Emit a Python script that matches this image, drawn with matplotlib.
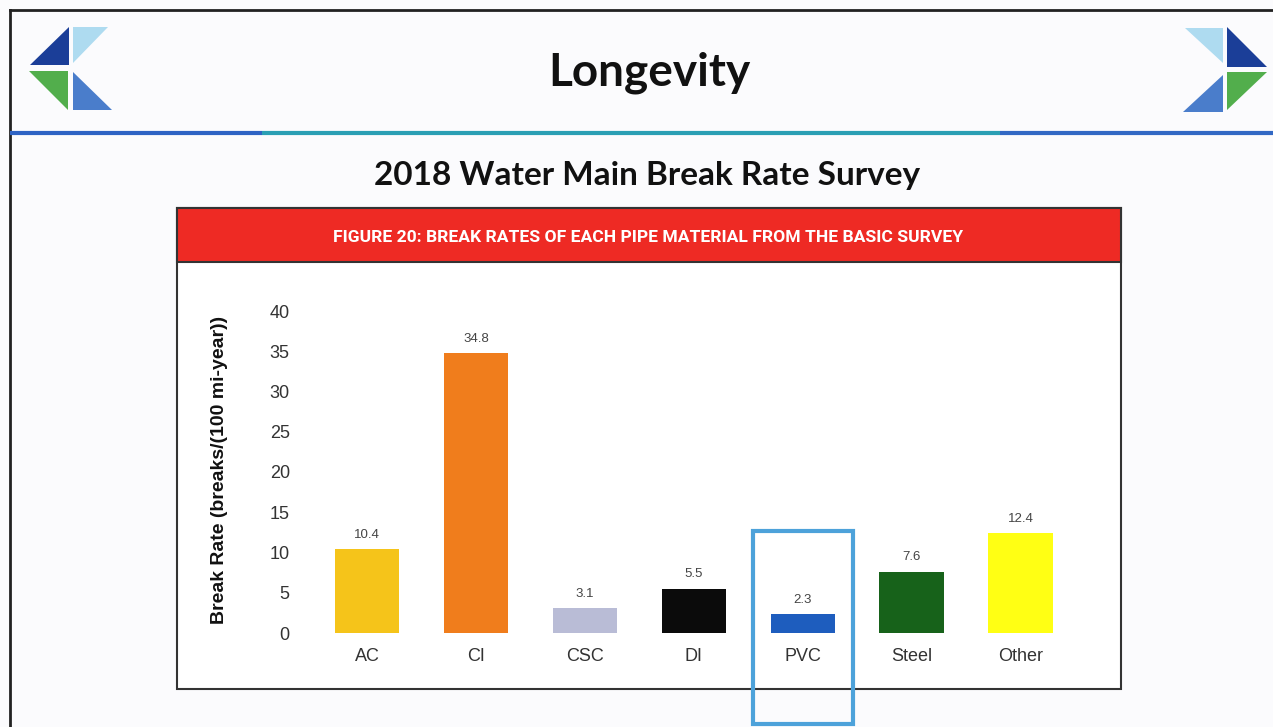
import matplotlib.pyplot as plt
from matplotlib.patches import Rectangle, Polygon

# Chart data
materials = ["AC", "CI", "CSC", "DI", "PVC", "Steel", "Other"]
break_rates = [10.4, 34.8, 3.1, 5.5, 2.3, 7.6, 12.4]
bar_colors = ["#F5C41A", "#F07D1C", "#B9BCD6", "#0B0B0B", "#1E5DBE", "#17621A", "#FFFF14"]
highlight = "PVC"

slide_title = "Longevity"
subtitle = "2018 Water Main Break Rate Survey"
figure_caption = "FIGURE 20: BREAK RATES OF EACH PIPE MATERIAL FROM THE BASIC SURVEY"
y_label = "Break Rate (breaks/(100 mi-year))"

W, H = 1273, 727
fig = plt.figure(figsize=(W / 100, H / 100), dpi=100)
fig.patch.set_facecolor("#FBFBFD")

# overlay in pixel coordinates for the slide decoration
deco = fig.add_axes([0, 0, 1, 1], zorder=0)
deco.set_xlim(0, W)
deco.set_ylim(H, 0)
deco.set_axis_off()

# slide border
deco.plot([10, 10], [10, H], color="#222222", lw=2)
deco.plot([10, W], [10, 10], color="#222222", lw=2)

# header rule
deco.plot([10, 262], [133, 133], color="#2E63C4", lw=3, solid_capstyle="butt")
deco.plot([262, 1000], [133, 133], color="#2A9FB4", lw=3, solid_capstyle="butt")
deco.plot([1000, W], [133, 133], color="#3268C4", lw=3, solid_capstyle="butt")

# logos
dark_blue, light_blue, green, mid_blue = "#1B3E98", "#AEDBF0", "#52AE4C", "#4A7DCB"
left_logo = [
    ([(30, 65), (69, 27), (69, 65)], dark_blue),
    ([(73, 27), (108, 27), (73, 63)], light_blue),
    ([(29, 71), (68, 71), (68, 110)], green),
    ([(73, 72), (73, 110), (112, 110)], mid_blue),
]
right_logo = [
    ([(1227, 27), (1267, 67), (1227, 67)], dark_blue),
    ([(1185, 28), (1223, 28), (1223, 63)], light_blue),
    ([(1227, 72), (1267, 72), (1227, 110)], green),
    ([(1223, 75), (1223, 112), (1183, 112)], mid_blue),
]
for pts, c in left_logo + right_logo:
    deco.add_patch(Polygon(pts, closed=True, facecolor=c, edgecolor="none"))

deco.text(649, 73, slide_title, ha="center", va="center", fontsize=33,
          fontweight="bold", family="Lato", color="#111111")
deco.text(647, 176, subtitle, ha="center", va="center", fontsize=24,
          fontweight="bold", family="Lato", color="#111111")

# chart frame and red caption band
deco.add_patch(Rectangle((177, 208), 944, 481, facecolor="white",
                         edgecolor="#333333", lw=1.5))
deco.add_patch(Rectangle((177, 208), 944, 54, facecolor="#EE2A24",
                         edgecolor="#333333", lw=1.5))
deco.text(648, 237, figure_caption, ha="center", va="center", fontsize=12.6,
          fontweight="bold", color="white", family="Roboto")

# bar chart
left_px, right_px = 301.6, 1085.9
top_px, bottom_px = 311, 633
ax = fig.add_axes([left_px / W, (H - bottom_px) / H,
                   (right_px - left_px) / W, (bottom_px - top_px) / H], zorder=1)
ax.patch.set_alpha(0)
x = range(len(materials))
ax.bar(x, break_rates, width=0.59, color=bar_colors)
for xi, v in zip(x, break_rates):
    ax.annotate(f"{v}", (xi, v), xytext=(0, 6), textcoords="offset points",
                ha="center", va="bottom", fontsize=9.5, color="#444444",
                family="Liberation Sans")

ax.set_xlim(-0.6, 6.6)
ax.set_ylim(0, 40)
ax.set_yticks(range(0, 45, 5))
ax.set_xticks(list(x))
ax.set_xticklabels(materials)
for s in ax.spines.values():
    s.set_visible(False)
ax.tick_params(axis="y", length=0, pad=8.5, labelsize=13, labelcolor="#333333")
ax.tick_params(axis="x", length=0, pad=11, labelsize=13, labelcolor="#333333")
for lab in ax.get_xticklabels() + ax.get_yticklabels():
    lab.set_family("Liberation Sans")

fig.text(220 / W, 1 - 470 / H, y_label, rotation=90, ha="center", va="center",
         fontsize=14, fontweight="bold", color="#111111", family="Liberation Sans")

# highlight box around PVC
hi = materials.index(highlight)
ax.add_patch(Rectangle((hi - 0.46, -11.3), 0.92, 24.0, fill=False,
                       edgecolor="#4DA2DA", lw=3, clip_on=False, zorder=5))

fig.savefig("out.png", dpi=100, facecolor=fig.get_facecolor())
